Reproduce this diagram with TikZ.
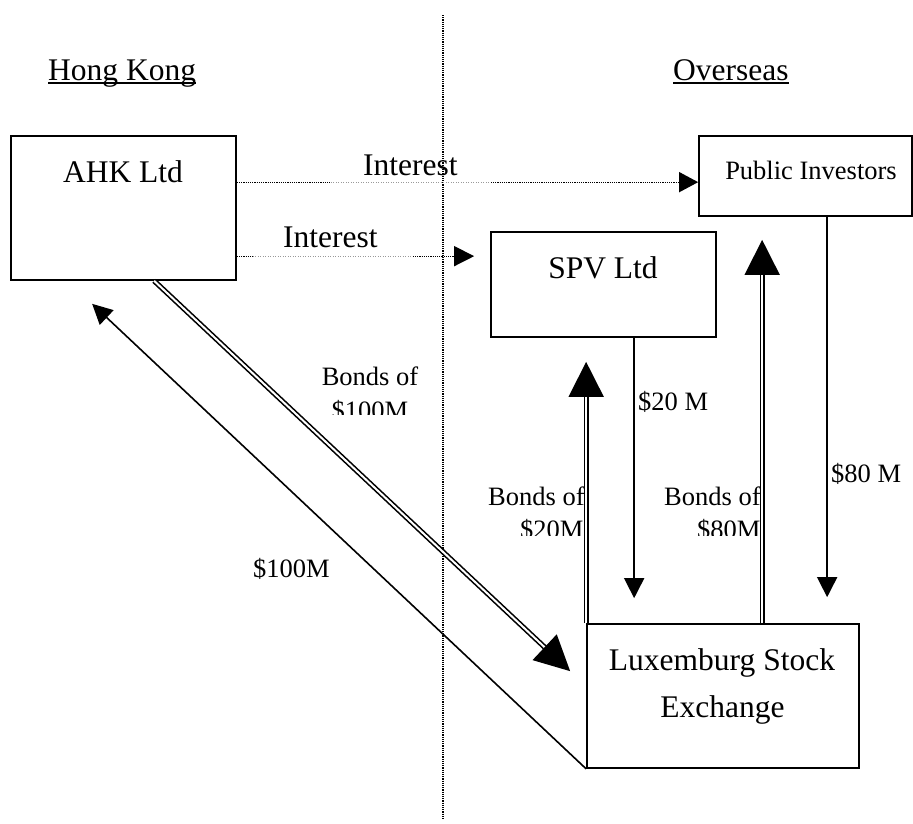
\documentclass[tikz,border=0pt]{standalone}
\usepackage{fontspec}
\setmainfont{Liberation Serif}
\usetikzlibrary{arrows.meta,calc}
\begin{document}
\begin{tikzpicture}[x=1pt,y=-1pt,
  box/.style={draw, line width=1.7pt, inner sep=0pt, rectangle},
  big/.style={inner sep=0pt, font=\fontsize{31.5}{36}\selectfont},
  small/.style={inner sep=0pt, font=\fontsize{26.5}{31}\selectfont},
  conn/.style={line width=1.6pt},
  dbl/.style={line width=1.6pt, double, double distance=2pt},
  dotdark/.style={line width=1.3pt, dash pattern=on 1.2pt off 1pt, black},
  dotlight/.style={line width=1pt, dash pattern=on 1pt off 1.5pt, black!40},
  bigtip/.tip={Triangle[length=35pt,width=35pt]},
  smalltip/.tip={Triangle[length=20pt,width=20pt]}
]
\useasboundingbox (0,0) rectangle (913,823);

% divider
\coordinate (dtop) at (443,15);
\coordinate (dbot) at (443,820);
\draw[line width=1.2pt, dash pattern=on 1.2pt off 1pt] (dtop) -- (dbot);

% headings
\node[big, anchor=base west] (hk) at (48,80) {Hong Kong};
\node[big, anchor=base west] (ov) at (673,80) {Overseas};
\draw[line width=1.7pt] ($(hk.base west)+(0,3)$) -- ($(hk.base east)+(0,3)$);
\draw[line width=1.7pt] ($(ov.base west)+(0,3)$) -- ($(ov.base east)+(0,3)$);

% boxes
\node[box, minimum width=225pt, minimum height=144pt] (ahk) at (123.5,208) {};
\node[box, minimum width=225pt, minimum height=105pt] (spv) at (603.5,284.5) {};
\node[box, minimum width=213pt, minimum height=80pt] (pub) at (805.5,176) {};
\node[box, minimum width=272pt, minimum height=144pt] (lux) at (723,696) {};

% box texts
\node[big, anchor=base] (ahkt) at (123,182) {AHK Ltd};
\node[big, anchor=base] (spvt) at (603,278) {SPV Ltd};
\node[small, anchor=base] (pubt) at (811,179) {Public Investors};
\node[big, anchor=base] (luxt1) at (722,670) {Luxemburg Stock};
\node[big, anchor=base] (luxt2) at (722.5,717) {Exchange};

% interest arrows
\coordinate (i1a) at ($(ahk.north east)+(0,47)$);
\coordinate (i1b) at ($(i1a)+(94,0)$);
\coordinate (i1c) at ($(i1a)+(254,0)$);
\draw[dotdark] (i1a) -- (i1b);
\draw[dotlight] (i1b) -- (i1c);
\draw[dotdark,-{Triangle[length=19pt,width=20pt]}] (i1c) -- (i1a -| pub.west);

\coordinate (i2a) at ($(ahk.north east)+(0,121)$);
\coordinate (i2b) at ($(i2a)+(16,0)$);
\coordinate (i2c) at ($(i2a)+(176,0)$);
\draw[dotdark] (i2a) -- (i2b);
\draw[dotlight] (i2b) -- (i2c);
\draw[dotdark,-{Triangle[length=20pt,width=20pt]},shorten >=16pt] (i2c) -- (i2a -| spv.west);

\node[big, anchor=base west] (int1) at (363,175) {Interest};
\node[big, anchor=base west] (int2) at (283,247) {Interest};

% bonds of $100M
\coordinate (b100s) at ($(ahk.south west)+(144,0)$);
\coordinate (b100t) at ($(lux.north west)+(-16,48)$);
\draw[dbl,-bigtip] (b100s) -- (b100t);

% $100M back
\coordinate (m100t) at ($(ahk.south west)+(82,23)$);
\draw[conn,-smalltip] (lux.south west) -- (m100t);

% bonds of $20M
\coordinate (b20t) at ($(spv.south west)+(96,24)$);
\draw[dbl,-bigtip] (lux.north west) -- (b20t);

% bonds of $80M
\coordinate (b80s) at ($(lux.north west)+(176,0)$);
\coordinate (b80t) at ($(pub.south west)+(64,23)$);
\draw[dbl,-bigtip] (b80s) -- (b80t);

% $20 M
\coordinate (m20s) at ($(spv.south west)+(144,0)$);
\coordinate (m20t) at ($(lux.north west)+(48,-25)$);
\draw[conn,-smalltip] (m20s) -- (m20t);

% $80 M
\coordinate (m80s) at ($(pub.south west)+(129,0)$);
\coordinate (m80t) at ($(lux.north west)+(241,-26)$);
\draw[conn,-smalltip] (m80s) -- (m80t);

% labels
\begin{scope}
\clip (300,355) rectangle (440,414);
\node[small, anchor=base] (lb100a) at (370,385) {Bonds of};
\node[small, anchor=base] (lb100b) at (370,419.5) {\$100M};
\end{scope}
\begin{scope}
\clip (470,475) rectangle (584,535);
\node[small, anchor=base west] (lb20a) at (488,505) {Bonds of};
\node[small, anchor=base west] (lb20b) at (520,538.5) {\$20M};
\end{scope}
\begin{scope}
\clip (650,475) rectangle (760,535);
\node[small, anchor=base west] (lb80a) at (664,505) {Bonds of};
\node[small, anchor=base west] (lb80b) at (697,538.5) {\$80M};
\end{scope}
\node[small, anchor=base west] (l20) at (638,410) {\$20 M};
\node[small, anchor=base west] (l80) at (831,482) {\$80 M};
\node[small, anchor=base west] (l100) at (253,577) {\$100M};
\end{tikzpicture}
\end{document}
